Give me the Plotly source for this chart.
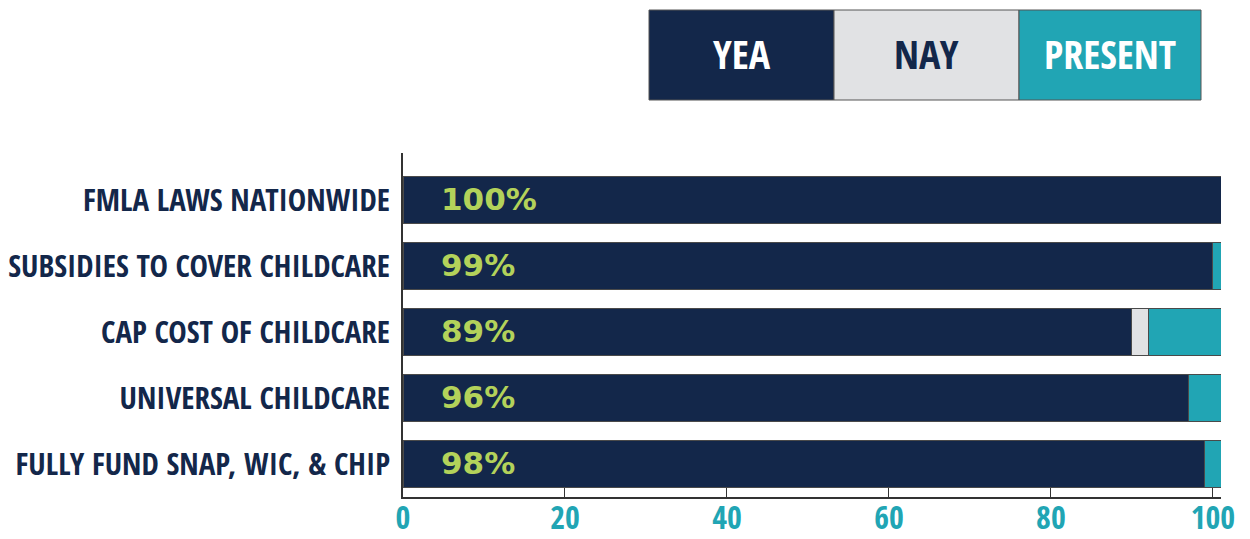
import plotly.graph_objects as go

categories = ["FMLA LAWS NATIONWIDE", "SUBSIDIES TO COVER CHILDCARE", "CAP COST OF CHILDCARE",
              "UNIVERSAL CHILDCARE", "FULLY FUND SNAP, WIC, & CHIP"]
yea = [101, 100, 90, 97, 99]
nay = [0, 0, 2, 0, 0]
present = [0, 1, 9, 4, 2]
pct_labels = ["100%", "99%", "89%", "96%", "98%"]
tick_vals = [0, 20, 40, 60, 80, 100]
legend_names = ["YEA", "NAY", "PRESENT"]

NAVY = "#13274A"
GRAY = "#E1E2E4"
TEAL = "#21A5B4"
GREEN = "#B3D25A"
COND = "Open Sans Condensed, Roboto Condensed, sans-serif"

OFF = 8  # page body margin
W, H = 1250 - OFF, 539 - OFF
L, R, T, B = 403 - OFF, 29, 153 - OFF, 42
PW, PH = W - L - R, H - T - B


def px_x(px):
    return (px - OFF - L) / PW


def px_y(py):
    return (H - B - (py - OFF)) / PH


fig = go.Figure()
for name, vals, col in zip(legend_names, [yea, nay, present], [NAVY, GRAY, TEAL]):
    fig.add_trace(go.Bar(y=categories, x=vals, orientation="h", name=name,
                         marker=dict(color=col, line=dict(color="#4a4a4a", width=1)),
                         showlegend=False, hoverinfo="x+name"))

for cat, lab in zip(categories, pct_labels):
    fig.add_annotation(x=4.5, y=cat, text=lab, showarrow=False, xanchor="left",
                       yanchor="middle", xref="x", yref="y", yshift=1,
                       font=dict(family="DejaVu Sans, sans-serif", size=31, color=GREEN, weight="bold"))

# custom legend box
lx = [649, 834, 1019, 1201]
for i, (name, col) in enumerate(zip(legend_names, [NAVY, GRAY, TEAL])):
    x0, x1 = px_x(lx[i]), px_x(lx[i + 1])
    fig.add_shape(type="rect", xref="paper", yref="paper", x0=x0, x1=x1,
                  y0=px_y(100), y1=px_y(10),
                  fillcolor=col, line=dict(color="#555", width=1), layer="above")
    fig.add_annotation(xref="paper", yref="paper", x=(x0 + x1) / 2, y=px_y(54),
                       text=name, showarrow=False, xanchor="center", yanchor="middle",
                       font=dict(family=COND, size=40, color=NAVY if name == "NAY" else "white",
                                 weight="bold"))

fig.update_layout(
    width=W, height=H, barmode="stack", bargap=0.3,
    plot_bgcolor="white", paper_bgcolor="white",
    margin=dict(l=L, r=R, t=T, b=B, autoexpand=False),
    xaxis=dict(range=[0, 101], tickvals=tick_vals, showgrid=False, zeroline=False,
               showline=True, linecolor="#333", linewidth=1.5, ticks="inside", ticklen=9,
               tickcolor="#333", tickwidth=1.2, ticklabelstandoff=-8, automargin=False,
               tickfont=dict(family=COND, size=32, color=TEAL, weight="bold")),
    yaxis=dict(categoryorder="array", categoryarray=categories, range=[4.5, -0.712],
               showgrid=False, zeroline=False, showline=True, linecolor="#333", linewidth=1.5,
               ticks="", ticklabelstandoff=5, automargin=False,
               tickfont=dict(family=COND, size=31, color=NAVY, weight="bold")),
)

fig.write_html("out.html")
